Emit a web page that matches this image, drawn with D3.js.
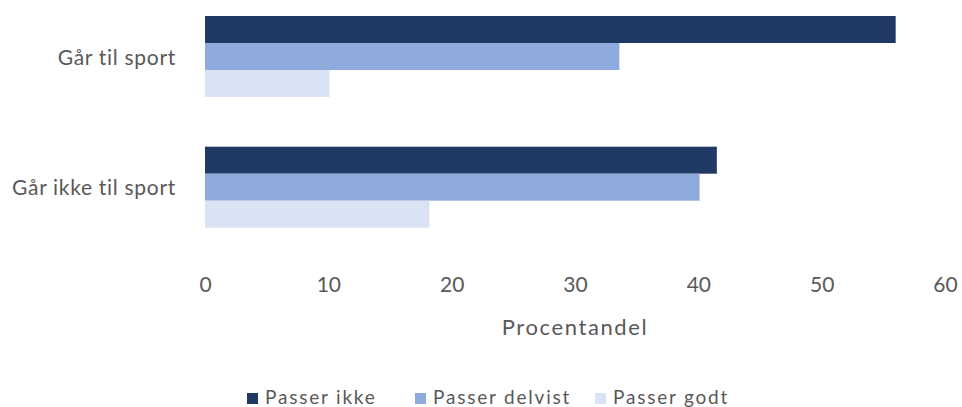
<!DOCTYPE html>
<html>
<head>
<meta charset="utf-8">
<script src="https://cdn.jsdelivr.net/npm/d3@7"></script>
<style>
  body { margin: 0; background: white; }
  text { font-family: Lato, "Open Sans", sans-serif; fill: #595959; }
</style>
</head>
<body>
<div id="chart"></div>
<script>
// categories, top to bottom
const categories = ["Går til sport", "Går ikke til sport"];
const seriesNames = ["Passer ikke", "Passer delvist", "Passer godt"];
const passerIkke = [56.0, 41.5];
const passerDelvist = [33.6, 40.1];
const passerGodt = [10.1, 18.2];
const xTicks = [0, 10, 20, 30, 40, 50, 60];
const colors = ["#203864", "#8FAADC", "#DAE3F3"];

const width = 962, height = 407;

const svg = d3.select("#chart")
    .append("svg")
    .attr("width", width)
    .attr("height", height);

// build rows from the arrays
const seriesValues = [passerIkke, passerDelvist, passerGodt];
const rows = categories.map(function(c, i) {
    return { cat: c, values: seriesValues.map(function(s, j) { return { name: seriesNames[j], value: s[i] }; }) };
});

const x = d3.scaleLinear()
    .domain([0, 60])
    .range([205, 945]);

const y = d3.scaleBand()
    .domain(categories)
    .range([16, 227.7])
    .paddingInner(0.38)
    .paddingOuter(0);

const ySub = d3.scaleBand()
    .domain(seriesNames)
    .range([0, y.bandwidth()]);

// bars
const groups = svg.selectAll("g.cat")
    .data(rows)
    .enter().append("g")
    .attr("class", "cat")
    .attr("transform", function(d) { return "translate(0," + y(d.cat) + ")"; });

groups.selectAll("rect")
    .data(function(d) { return d.values; })
    .enter().append("rect")
    .attr("x", x(0))
    .attr("y", function(d) { return ySub(d.name); })
    .attr("width", function(d) { return x(d.value) - x(0); })
    .attr("height", ySub.bandwidth())
    .style("fill", function(d, i) { return colors[i]; });

// category labels
svg.selectAll("text.cat")
    .data(categories)
    .enter().append("text")
    .attr("class", "cat")
    .attr("x", 176)
    .attr("y", function(d) { return y(d) + y.bandwidth() / 2 + 8; })
    .attr("text-anchor", "end")
    .style("font-size", "21px")
    .style("letter-spacing", "0.7px")
    .text(function(d) { return d; });

// x axis (no line, labels only)
const xAxis = svg.append("g")
    .attr("transform", "translate(0,277)")
    .call(d3.axisBottom(x).tickValues(xTicks).tickSize(0).tickPadding(0));
xAxis.select(".domain").remove();
xAxis.selectAll("text")
    .attr("dy", "0.71em")
    .style("font-size", "21px")
    .style("font-family", "Lato, 'Open Sans', sans-serif")
    .attr("fill", "#595959");

// axis title
svg.append("text")
    .attr("x", x(30))
    .attr("y", 335)
    .attr("text-anchor", "middle")
    .style("font-size", "22px")
    .style("letter-spacing", "1.6px")
    .text("Procentandel");

// legend
const legendX = [247, 415, 595];
const legend = svg.selectAll("g.legend")
    .data(seriesNames)
    .enter().append("g")
    .attr("class", "legend")
    .attr("transform", function(d, i) { return "translate(" + legendX[i] + ",404)"; });

legend.append("rect")
    .attr("x", 0)
    .attr("y", -11)
    .attr("width", 11)
    .attr("height", 11)
    .style("fill", function(d, i) { return colors[i]; });

legend.append("text")
    .attr("x", 18)
    .attr("y", 0)
    .style("font-size", "19px")
    .style("letter-spacing", "1.8px")
    .text(function(d) { return d; });
</script>
</body>
</html>
